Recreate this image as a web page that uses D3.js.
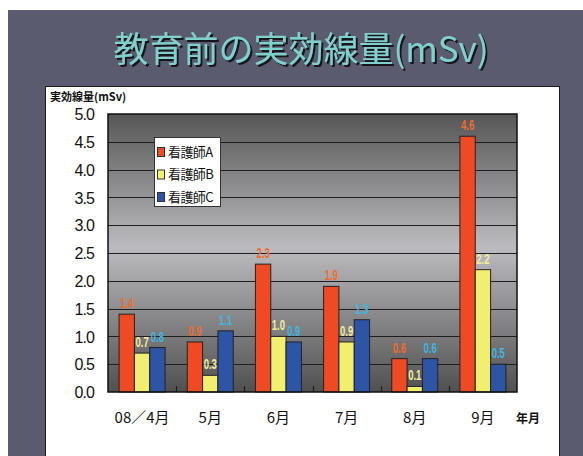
<!DOCTYPE html>
<html>
<head>
<meta charset="utf-8">
<script src="https://cdn.jsdelivr.net/npm/d3@7"></script>
<style>
  html, body { margin: 0; padding: 0; background: #ffffff; }
  svg { display: block; }
</style>
</head>
<body>
<svg id="chart" width="583" height="456"></svg>
<script>
// Monthly effective dose before training, per nurse
const months = ["08／4月", "5月", "6月", "7月", "8月", "9月"];
const seriesNames = ["看護師A", "看護師B", "看護師C"];
const nurseA = [1.4, 0.9, 2.3, 1.9, 0.6, 4.6];
const nurseB = [0.7, 0.3, 1.0, 0.9, 0.1, 2.2];
const nurseC = [0.8, 1.1, 0.9, 1.3, 0.6, 0.5];
const yTicks = [0, 0.5, 1, 1.5, 2, 2.5, 3, 3.5, 4, 4.5, 5];

const barColors = ["#ee4a24", "#f2ee70", "#2d54a5"];
const labelColors = ["#f26a2e", "#f1ec9c", "#3cb6e4"];
const series = [nurseA, nurseB, nurseC];

const svg = d3.select("#chart");
const sans = "'Liberation Sans', Arial, sans-serif";
const jp = "'Noto Sans CJK JP', sans-serif";

// slide background
svg.append("rect").attr("x", 8).attr("y", 10).attr("width", 575).attr("height", 446)
  .attr("fill", "#5a5b6e");

// title with drop shadow
const defs = svg.append("defs");
const shadow = defs.append("filter").attr("id", "titleShadow")
  .attr("x", "-5%").attr("y", "-20%").attr("width", "110%").attr("height", "140%");
shadow.append("feDropShadow").attr("dx", 2).attr("dy", 2).attr("stdDeviation", 0.4)
  .attr("flood-color", "#15151c").attr("flood-opacity", 1);

svg.append("text").attr("x", 301).attr("y", 62).attr("text-anchor", "middle")
  .attr("font-family", jp).attr("font-size", 35).attr("fill", "#80d0cc")
  .attr("filter", "url(#titleShadow)")
  .text("教育前の実効線量(mSv)");

// white chart panel
svg.append("rect").attr("x", 45.5).attr("y", 86.5).attr("width", 514).attr("height", 380)
  .attr("fill", "#ffffff").attr("stroke", "#1a1a1a").attr("stroke-width", 1);

const plot = { left: 108, right: 517, top: 114, bottom: 392 };

const x = d3.scaleBand().domain(months).range([plot.left, plot.right]).paddingInner(0).paddingOuter(0);
const y = d3.scaleLinear().domain([0, 5]).range([plot.bottom, plot.top]);
const groupWidth = 46;
const xs = d3.scaleBand().domain(d3.range(series.length))
  .range([0, groupWidth]).padding(0);

// plot background gradient
const grad = defs.append("linearGradient").attr("id", "plotBg")
  .attr("x1", 0).attr("y1", 0).attr("x2", 0).attr("y2", 1);
grad.append("stop").attr("offset", "0%").attr("stop-color", "#565656");
grad.append("stop").attr("offset", "48%").attr("stop-color", "#bcbcc0");
grad.append("stop").attr("offset", "100%").attr("stop-color", "#505050");

svg.append("rect").attr("x", plot.left).attr("y", plot.top)
  .attr("width", plot.right - plot.left).attr("height", plot.bottom - plot.top)
  .attr("fill", "url(#plotBg)");

// horizontal gridlines
svg.append("g").selectAll("line").data(yTicks.filter(d => d > 0 && d < 5)).join("line")
  .attr("x1", plot.left).attr("x2", plot.right)
  .attr("y1", d => Math.round(y(d)) + 0.5).attr("y2", d => Math.round(y(d)) + 0.5)
  .attr("stroke", "#1e1e1e").attr("stroke-width", 1);

// small category divider ticks along the base
svg.append("g").selectAll("line").data(months.slice(1)).join("line")
  .attr("x1", d => Math.round(x(d)) + 0.5).attr("x2", d => Math.round(x(d)) + 0.5)
  .attr("y1", plot.bottom).attr("y2", plot.bottom - 6)
  .attr("stroke", "#1e1e1e").attr("stroke-width", 1.2);

// bars
const groups = svg.append("g").selectAll("g").data(months).join("g")
  .attr("transform", d => `translate(${x(d) + (x.bandwidth() - groupWidth) / 2},0)`);

groups.selectAll("rect").data((m, i) => series.map((s, k) => ({ k, v: s[i] }))).join("rect")
  .attr("x", d => xs(d.k))
  .attr("y", d => y(d.v))
  .attr("width", xs.bandwidth())
  .attr("height", d => y(0) - y(d.v))
  .attr("fill", d => barColors[d.k])
  .attr("stroke", "#222")
  .attr("stroke-width", 1);

// value labels (horizontally condensed bold figures)
groups.selectAll("text").data((m, i) => series.map((s, k) => ({ k, v: s[i] }))).join("text")
  .attr("transform", d => `translate(${xs(d.k) + xs.bandwidth() / 2},${y(d.v) - 6}) scale(0.68,1)`)
  .attr("text-anchor", "middle")
  .attr("font-family", sans).attr("font-weight", "bold").attr("font-size", 14)
  .attr("fill", d => labelColors[d.k])
  .text(d => d3.format(".1f")(d.v));

// plot frame
svg.append("rect").attr("x", plot.left).attr("y", plot.top)
  .attr("width", plot.right - plot.left).attr("height", plot.bottom - plot.top)
  .attr("fill", "none").attr("stroke", "#111").attr("stroke-width", 1.5);

// y axis labels
const yAxis = d3.axisLeft(y).tickValues(yTicks).tickFormat(d3.format(".1f")).tickSize(0).tickPadding(14);
const gy = svg.append("g").attr("transform", `translate(${plot.left},0)`).call(yAxis);
gy.select(".domain").remove();
gy.selectAll("text").attr("font-family", sans).attr("font-size", 16).attr("fill", "#111")
  .attr("letter-spacing", -0.9).attr("dy", "0.35em");

// x axis labels
const xAxis = d3.axisBottom(x).tickSize(0).tickPadding(20);
const gx = svg.append("g").attr("transform", `translate(0,${plot.bottom})`).call(xAxis);
gx.select(".domain").remove();
gx.selectAll("text").attr("font-family", jp).attr("font-size", 15).attr("fill", "#111");

// axis titles
svg.append("text").attr("x", 50).attr("y", 101)
  .attr("font-family", jp).attr("font-weight", "bold").attr("font-size", 11).attr("fill", "#111")
  .text("実効線量(mSv)");
svg.append("text").attr("x", 516).attr("y", 423)
  .attr("font-family", jp).attr("font-weight", "bold").attr("font-size", 12).attr("fill", "#111")
  .text("年月");

// legend
const legend = svg.append("g").attr("transform", "translate(154,137)");
legend.append("rect").attr("x", 0.5).attr("y", 0.5).attr("width", 66).attr("height", 69)
  .attr("fill", "#ffffff").attr("stroke", "#333").attr("stroke-width", 1);
const items = legend.selectAll("g").data(seriesNames).join("g")
  .attr("transform", (d, i) => `translate(0,${15 + i * 22.5})`);
items.append("rect").attr("x", 3.5).attr("y", -4.5).attr("width", 7).attr("height", 9)
  .attr("fill", (d, i) => barColors[i]).attr("stroke", "#333").attr("stroke-width", 1);
items.append("text").attr("x", 14).attr("y", 0).attr("dy", "0.36em")
  .attr("font-family", jp).attr("font-size", 13).attr("fill", "#111")
  .attr("letter-spacing", -0.6)
  .text(d => d);
</script>
</body>
</html>
